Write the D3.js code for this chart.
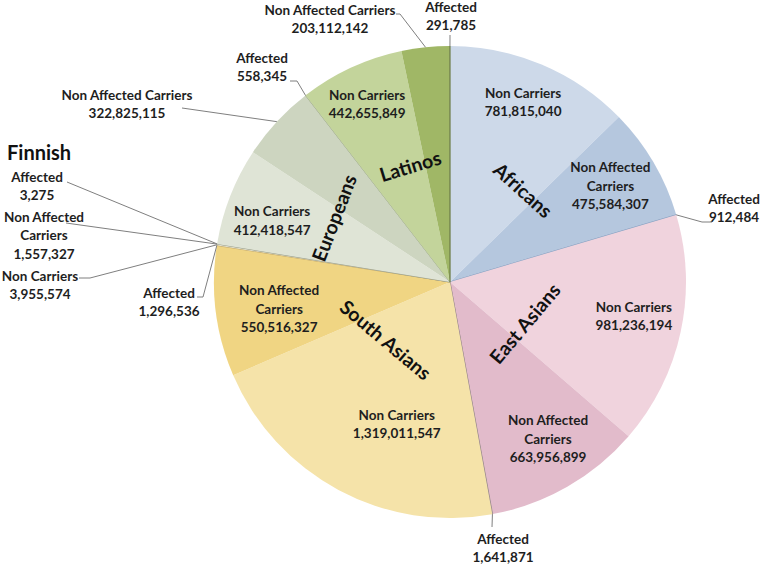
<!DOCTYPE html>
<html><head><meta charset="utf-8">
<script src="https://cdn.jsdelivr.net/npm/d3@7"></script>
<style>
html,body{margin:0;padding:0;background:#fff;}
svg{display:block;font-family:Lato,"Open Sans",sans-serif;}
</style></head>
<body><svg id="chart" width="763" height="566"></svg>
<script>
// ---- data ----
const groups = ["Africans", "East Asians", "South Asians", "Finnish", "Europeans", "Latinos"];
const types = ["Non Carriers", "Non Affected Carriers", "Affected"];
const nonCarriers = [781815040, 981236194, 1319011547, 3955574, 412418547, 442655849];
const nonAffectedCarriers = [475584307, 663956899, 550516327, 1557327, 322825115, 203112142];
const affected = [912484, 1641871, 1296536, 3275, 558345, 291785];

// ---- styles ----
const groupColors = {
  "Africans":     ["#cdd9e9", "#b5c7de", "#8ea4c4"],
  "East Asians":  ["#f0d3dd", "#e2bbcb", "#9b8a8a"],
  "South Asians": ["#f5e3a9", "#f0d583", "#c9b070"],
  "Finnish":      ["#e5e5d8", "#d5d8c8", "#9aa08a"],
  "Europeans":    ["#dfe4d6", "#cdd5c0", "#a7b394"],
  "Latinos":      ["#c3d49b", "#a0b766", "#6e7f4a"]
};
const cx = 450, cy = 282, R = 236, lineH = 18.6;

// label layout: inside labels by polar offset, outside labels by anchor + leader elbow points
const labelLayout = {
  "Africans|Non Carriers": {r: 194, da: -0.7},
  "Africans|Non Affected Carriers": {r: 187, da: -0.5, wrap: true},
  "Africans|Affected": {x: 734, y: 199, leader: [[702, 222], [712, 222]]},
  "East Asians|Non Carriers": {r: 187, da: -1.6},
  "East Asians|Non Affected Carriers": {r: 185, da: -2.2, wrap: true},
  "East Asians|Affected": {x: 503, y: 539, leader: [[492, 527]]},
  "South Asians|Non Carriers": {r: 152, da: -7.7},
  "South Asians|Non Affected Carriers": {r: 173, da: -1.8, wrap: true},
  "South Asians|Affected": {x: 169, y: 293, leader: [[203, 297], [197, 297]]},
  "Finnish|Non Carriers": {x: 40, y: 276, leader: [[90, 278], [79, 278]]},
  "Finnish|Non Affected Carriers": {x: 44, y: 217, wrap: true, leader: [[66, 223]]},
  "Finnish|Affected": {x: 37, y: 177, leader: [[67, 182]]},
  "Europeans|Non Carriers": {r: 188, da: -2.4},
  "Europeans|Non Affected Carriers": {x: 127, y: 95, leader: [[182, 108]]},
  "Europeans|Affected": {x: 262, y: 58, leader: [[297, 81], [290, 81]]},
  "Latinos|Non Carriers": {r: 196, da: -0.2},
  "Latinos|Non Affected Carriers": {x: 330, y: 10, leader: [[400, 14], [396, 14]]},
  "Latinos|Affected": {x: 451, y: 7, leader: [[450, 35]]}
};
const groupLabelLayout = {
  "Africans":     {r: 117, da: 1.7, rot: 42},
  "East Asians":  {r: 86, da: -2.6, rot: -50},
  "South Asians": {r: 87, da: 3.7, rot: 40},
  "Europeans":    {r: 132, da: -1.8, rot: -69},
  "Latinos":      {r: 122, da: 0, rot: -17},
  "Finnish":      {x: 7, y: 153}
};

// ---- build slices ----
const seriesVals = [nonCarriers, nonAffectedCarriers, affected];
const slices = [];
groups.forEach((g, gi) => {
  types.forEach((t, ti) => {
    slices.push({group: g, type: t, value: seriesVals[ti][gi], ti});
  });
});

const svg = d3.select("#chart");
const g = svg.append("g").attr("transform", `translate(${cx},${cy})`);

const pie = d3.pie().sort(null).value(d => d.value);
const arcs = pie(slices);
const arc = d3.arc().innerRadius(0).outerRadius(R);
const fmt = d3.format(",");
const deg = Math.PI / 180;
const polar = (ang, r) => [r * Math.sin(ang), -r * Math.cos(ang)];

g.selectAll("path.slice").data(arcs).join("path")
  .attr("class", "slice")
  .attr("d", arc)
  .attr("fill", d => groupColors[d.data.group][d.data.ti])
  .attr("stroke", d => d.data.ti === 2 ? groupColors[d.data.group][2] : "none")
  .attr("stroke-width", d => d.data.ti === 2 ? 0.8 : 0);

// ---- data labels ----
const labG = svg.append("g").attr("font-weight", "bold").attr("font-size", 13.5)
  .attr("fill", "#1e1e1e").attr("text-anchor", "middle");
arcs.forEach(a => {
  const key = a.data.group + "|" + a.data.type;
  const L = labelLayout[key];
  if (!L) return;
  const mid = (a.startAngle + a.endAngle) / 2;
  let lines;
  if (a.data.type === "Non Affected Carriers" && L.wrap) lines = ["Non Affected", "Carriers", fmt(a.data.value)];
  else lines = [a.data.type, fmt(a.data.value)];
  let x, y0;
  if (L.r !== undefined) {
    const p = polar(mid + L.da * deg, L.r);
    x = cx + p[0];
    y0 = cy + p[1] - (lines.length - 1) * lineH / 2;
  } else {
    x = L.x; y0 = L.y;
    const e = polar(mid, R);
    const pts = [[cx + e[0], cy + e[1]]].concat(L.leader);
    svg.append("path").attr("d", d3.line()(pts))
      .attr("fill", "none").attr("stroke", "#7f7f7f").attr("stroke-width", 1);
  }
  lines.forEach((s, i) => {
    labG.append("text").attr("x", x).attr("y", y0 + i * lineH)
      .attr("dy", "0.35em").text(s);
  });
});

// ---- group labels ----
const groupTotals = groups.map((gname, gi) => nonCarriers[gi] + nonAffectedCarriers[gi] + affected[gi]);
const total = d3.sum(groupTotals);
const angScale = d3.scaleLinear().domain([0, total]).range([0, 2 * Math.PI]);
let cum = 0;
groups.forEach((gname, gi) => {
  const midV = cum + groupTotals[gi] / 2;
  cum += groupTotals[gi];
  const L = groupLabelLayout[gname];
  if (L.x !== undefined) {
    svg.append("text").attr("x", L.x).attr("y", L.y).attr("dy", "0.35em")
      .attr("font-size", 20).attr("font-weight", "bold").attr("fill", "#111")
      .text(gname);
    return;
  }
  const p = polar(angScale(midV) + L.da * deg, L.r);
  svg.append("text")
    .attr("transform", `translate(${cx + p[0]},${cy + p[1]}) rotate(${L.rot})`)
    .attr("text-anchor", "middle").attr("dy", "0.35em")
    .attr("font-size", 19.5).attr("font-weight", "bold").attr("fill", "#111")
    .text(gname);
});
</script></body></html>
